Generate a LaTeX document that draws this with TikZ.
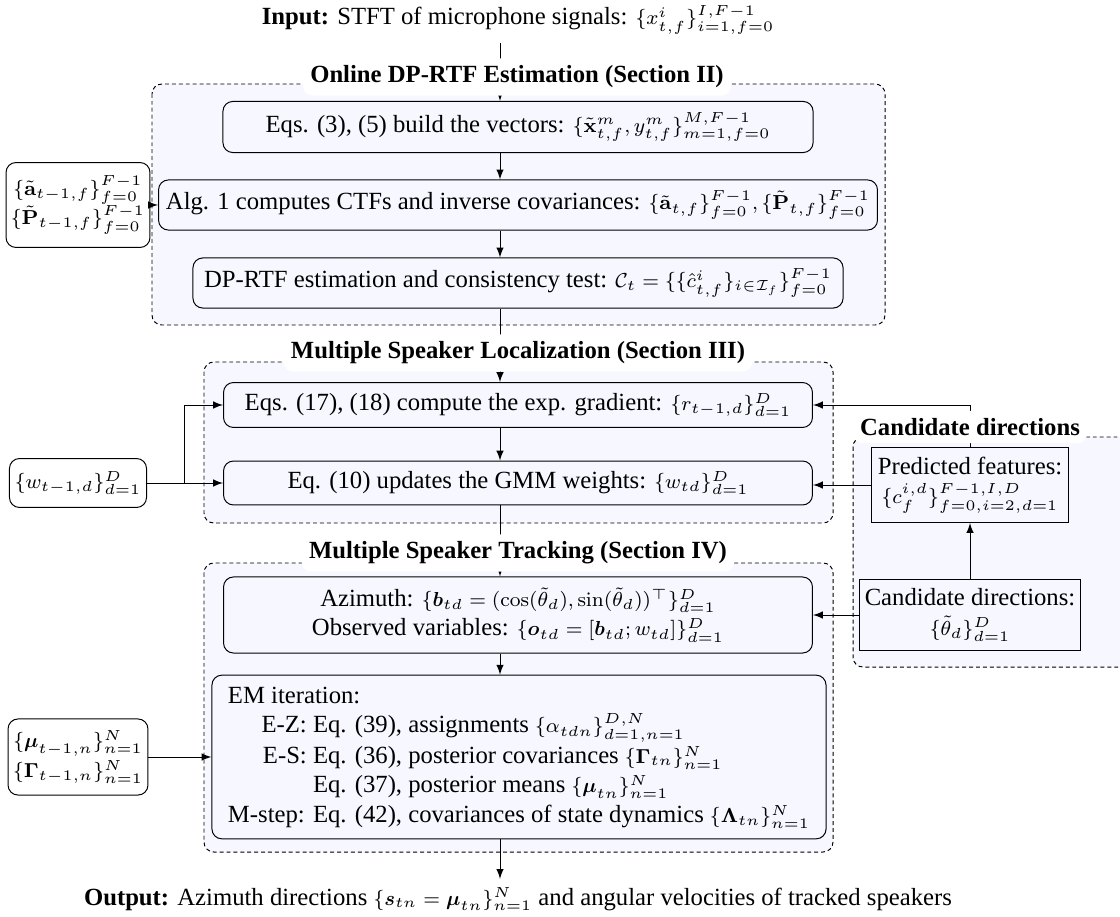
\RequirePackage{fix-cm}
\documentclass[tikz,border=0pt]{standalone}
\usepackage{amssymb}
\usepackage{amsmath}
\usepackage[no-math]{fontspec}
\setmainfont{Liberation Serif}
\DeclareMathSizes{10}{8.2}{5.9}{4.4}
\usepackage{tikz}
\usetikzlibrary{arrows,positioning,scopes,backgrounds}
\tikzset{>=latex}
\tikzstyle{stage}=[draw, rounded corners, align=center, minimum width=238.5pt, inner sep=3pt]
\tikzstyle{memo}=[draw, rounded corners, align=center, minimum width=55.5pt, inner xsep=2pt, inner ysep=3pt]
\tikzstyle{cand}=[draw, align=center, inner xsep=2pt, inner ysep=3pt]
\tikzstyle{group}=[draw, dash pattern=on 1.6pt off 1.2pt, rounded corners, fill=blue!3]
\tikzstyle{grouptitle}=[fill=white, rounded corners, font=\bfseries, inner sep=3pt]

\begin{document}
\begin{tikzpicture}[x=0.405pt, y=-0.405pt]
	\useasboundingbox (0,0) rectangle (1120,916);
	\coordinate (spine) at (500,0);
	\node[anchor=base] (input) at (518,25)
		{\textbf{Input:} STFT of microphone signals: $\{x^{i}_{t,f}\}^{I,F-1}_{i=1,f=0}$};
	\node[stage, minimum width=239pt, minimum height=20.7pt] (build) at (518,127)
		{Eqs. (3), (5) build the vectors: $\{\tilde{\mathbf{x}}^{m}_{t,f}, y^{m}_{t,f}\}^{M,F-1}_{m=1,f=0}$};
	\node[stage, minimum width=289.6pt, minimum height=20.3pt] (ctf) at (518,205)
		{Alg. 1 computes CTFs and inverse covariances: $\{\tilde{\mathbf{a}}_{t,f}\}^{F-1}_{f=0}, \{\tilde{\mathbf{P}}_{t,f}\}^{F-1}_{f=0}$};
	\node[stage, minimum width=263.3pt, minimum height=20.3pt] (rtf) at (518,283)
		{DP-RTF estimation and consistency test: $\mathcal{C}_{t} = \{\{\hat{c}^{i}_{t,f}\}_{i\in\mathcal{I}_{f}}\}^{F-1}_{f=0}$};
	\node[memo, minimum height=34.4pt] (prevctf) at (78,205)
		{$\{\tilde{\mathbf{a}}_{t-1,f}\}^{F-1}_{f=0}$\\ $\{\tilde{\mathbf{P}}_{t-1,f}\}^{F-1}_{f=0}$};
	\node[stage, minimum height=18.2pt] (grad) at (518,405)
		{Eqs. (17), (18) compute the exp. gradient: $\{r_{t-1,d}\}^{D}_{d=1}$};
	\node[stage, minimum height=17.8pt] (gmm) at (518,483)
		{Eq. (10) updates the GMM weights: $\{w_{td}\}^{D}_{d=1}$};
	\node[memo, minimum height=19.8pt] (prevw) at (78,483)
		{$\{w_{t-1,d}\}^{D}_{d=1}$};
	\node[stage, minimum height=30.8pt] (obs) at (518,615)
		{Azimuth: $\{\boldsymbol{b}_{td} = (\cos(\tilde{\theta}_{d}), \sin(\tilde{\theta}_{d}))^{\top}\}^{D}_{d=1}$\\
		 Observed variables: $\{\boldsymbol{o}_{td} = [\boldsymbol{b}_{td}; w_{td}]\}^{D}_{d=1}$};
	\node[stage, minimum width=248.7pt, minimum height=65.6pt] (em) at (519,757)
		{\begin{tabular}{@{}r@{ }l@{}}
		\multicolumn{2}{@{}l}{EM iteration:}\\
		E-Z: & Eq. (39), assignments $\{\alpha_{tdn}\}^{D,N}_{d=1,n=1}$\\
		E-S: & Eq. (36), posterior covariances $\{\boldsymbol{\Gamma}_{tn}\}^{N}_{n=1}$\\
		     & Eq. (37), posterior means $\{\boldsymbol{\mu}_{tn}\}^{N}_{n=1}$\\
		M-step: & Eq. (42), covariances of state dynamics $\{\boldsymbol{\Lambda}_{tn}\}^{N}_{n=1}$
		\end{tabular}};
	\node[memo, minimum height=30.8pt] (prevmu) at (78,757)
		{$\{\boldsymbol{\mu}_{t-1,n}\}^{N}_{n=1}$\\ $\{\boldsymbol{\Gamma}_{t-1,n}\}^{N}_{n=1}$};
	\node[cand, minimum width=79.8pt, minimum height=30.4pt] (feat) at (970,485)
		{Predicted features:\\ $\{c^{i,d}_{f}\}^{F-1,I,D}_{f=0,i=2,d=1}$};
	\node[cand, minimum width=88.7pt, minimum height=28.8pt] (dirs) at (970,615)
		{Candidate directions:\\ $\{\tilde{\theta}_{d}\}^{D}_{d=1}$};
	\node[anchor=base] (output) at (518,905)
		{\textbf{Output:} Azimuth directions $\{\boldsymbol{s}_{tn} = \boldsymbol{\mu}_{tn}\}^{N}_{n=1}$ and angular velocities of tracked speakers};

	\begin{scope}[on background layer]
		\draw[group] (152,84) rectangle (885,325);
		\draw[group] (204,362) rectangle (833,523);
		\draw[group] (204,563) rectangle (833,852);
		\draw[group] (853,437) rectangle (1140,667);
	\end{scope}

	\foreach \from/\to in {input/build, build/ctf, ctf/rtf, rtf/grad, grad/gmm, gmm/obs, obs/em, em/output}
		\draw[->] (\from.south -| spine) -- (\to.north -| spine);
	\draw[->] (prevctf) -- (ctf);
	\draw[->] (prevw) -- (gmm);
	\coordinate (split) at (184,483);
	\draw[->] (split) |- (grad.west);
	\draw[->] (prevmu) -- (em);
	\draw[->] (feat.north) |- (grad.east);
	\draw[->] (feat.west) -- (feat.west -| gmm.east);
	\draw[->] (dirs) -- (feat);
	\draw[->] (dirs) -- (obs);

	\node[grouptitle] (onlinetitle) at (517,77) {Online DP-RTF Estimation (Section II)};
	\node[grouptitle] (loctitle) at (518,353) {Multiple Speaker Localization (Section III)};
	\node[grouptitle] (tracktitle) at (518,553) {Multiple Speaker Tracking (Section IV)};
	\node[grouptitle] (candtitle) at (970,427) {Candidate directions};
\end{tikzpicture}
\end{document}
